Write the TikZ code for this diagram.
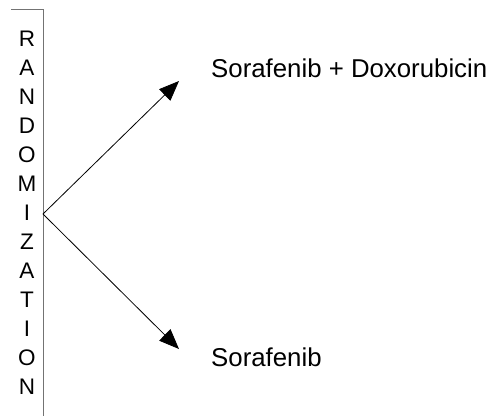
\documentclass[tikz,border=0pt]{standalone}
\usepackage{fontspec}
\setmainfont{Liberation Sans}
\usetikzlibrary{arrows.meta}
\begin{document}
\begin{tikzpicture}[x=1pt,y=-1pt,
  frame/.style={draw=black!55,line width=0.9pt},
  branch/.style={draw=black,line width=0.8pt,-{Triangle[length=20pt,width=16pt]}},
  arm/.style={font=\fontsize{25.8}{30}\selectfont,anchor=west,inner sep=0pt}]
\useasboundingbox (0,0) rectangle (495,416);
% bracket: top edge and right edge
\draw[frame] (11,9) -- (43,9) -- (43,416);
% stacked vertical label
\node (rand) at (27,213) [align=center,inner sep=0pt,
  font=\fontsize{22.5}{29}\selectfont]
  {R\\A\\N\\D\\O\\M\\I\\Z\\A\\T\\I\\O\\N};
\coordinate (split) at (43,214);
\node[arm] (combo) at (211,68) {Sorafenib + Doxorubicin};
\node[arm] (mono) at (211,357) {Sorafenib};
\coordinate (tipA) at (179,81);
\coordinate (tipB) at (179,349);
\draw[branch] (split) -- (tipA);
\draw[branch] (split) -- (tipB);
\end{tikzpicture}
\end{document}
